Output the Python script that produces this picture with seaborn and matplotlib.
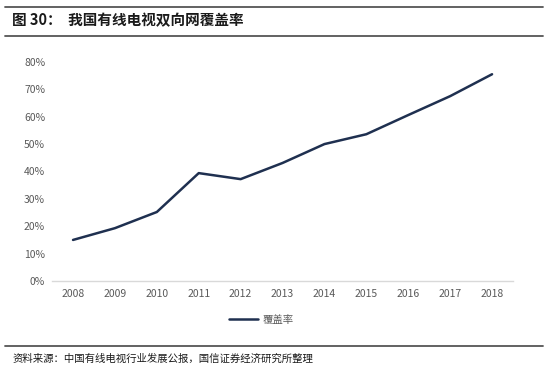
import pandas as pd
import matplotlib.pyplot as plt
import seaborn as sns
from matplotlib.lines import Line2D
from matplotlib.ticker import PercentFormatter

# ==========================================
# DATA
# ==========================================

years = ['2008', '2009', '2010', '2011', '2012', '2013',
         '2014', '2015', '2016', '2017', '2018']
coverage = [15.0, 19.3, 25.2, 39.4, 37.2, 43.1,
            50.0, 53.6, 60.6, 67.5, 75.5]

title_text = "图 30：  我国有线电视双向网覆盖率"
series_name = "覆盖率"
source_text = "资料来源：中国有线电视行业发展公报，国信证券经济研究所整理"

df = pd.DataFrame({'year': years, 'value': coverage})

# ==========================================
# STYLE
# ==========================================

sns.set_style('white')
plt.rcParams['font.family'] = ['Noto Sans CJK SC', 'DejaVu Sans']

line_color = '#1f3050'
tick_color = '#595959'

# ==========================================
# PLOT
# ==========================================

fig = plt.figure(figsize=(5.54, 3.73), dpi=100)
ax = fig.add_axes([0.094, 0.2466, 0.832, 0.5874])

sns.lineplot(
    x='year',
    y='value',
    data=df,
    ax=ax,
    color=line_color,
    linewidth=1.8,
    sort=False
)

ax.set_xlim(-0.5, len(years) - 0.5)
ax.set_ylim(0, 80)
ax.set_yticks(range(0, 81, 10))
ax.yaxis.set_major_formatter(PercentFormatter(decimals=0))
ax.set_xlabel('')
ax.set_ylabel('')

for side in ['top', 'right', 'left']:
    ax.spines[side].set_visible(False)
ax.spines['bottom'].set_color('#d9d9d9')
ax.spines['bottom'].set_linewidth(1.0)

ax.tick_params(axis='x', length=0, labelsize=7.5,
               labelcolor=tick_color, pad=6)
ax.tick_params(axis='y', length=0, labelsize=7.5,
               labelcolor=tick_color, pad=5)

# legend
handle = Line2D([0], [0], color=line_color, linewidth=1.8)
fig.legend(
    [handle], [series_name],
    loc='center',
    bbox_to_anchor=(0.472, 0.142),
    frameon=False,
    fontsize=7.5,
    handlelength=2.8,
    handletextpad=0.4,
    labelcolor=tick_color
)

# header / footer
fig.text(0.022, 0.946, title_text, fontsize=10.5, fontweight='bold',
         va='center', ha='left', color='#1a1a1a')
for yy in [1 - 7 / 373, 1 - 36 / 373, 1 - 346 / 373]:
    fig.add_artist(Line2D([0.009, 0.98], [yy, yy], color='#555555',
                          linewidth=1.3, transform=fig.transFigure))
fig.text(0.022, 0.038, source_text, fontsize=7.5, va='center',
         ha='left', color='#1a1a1a')

plt.savefig('out.png', dpi=100)
